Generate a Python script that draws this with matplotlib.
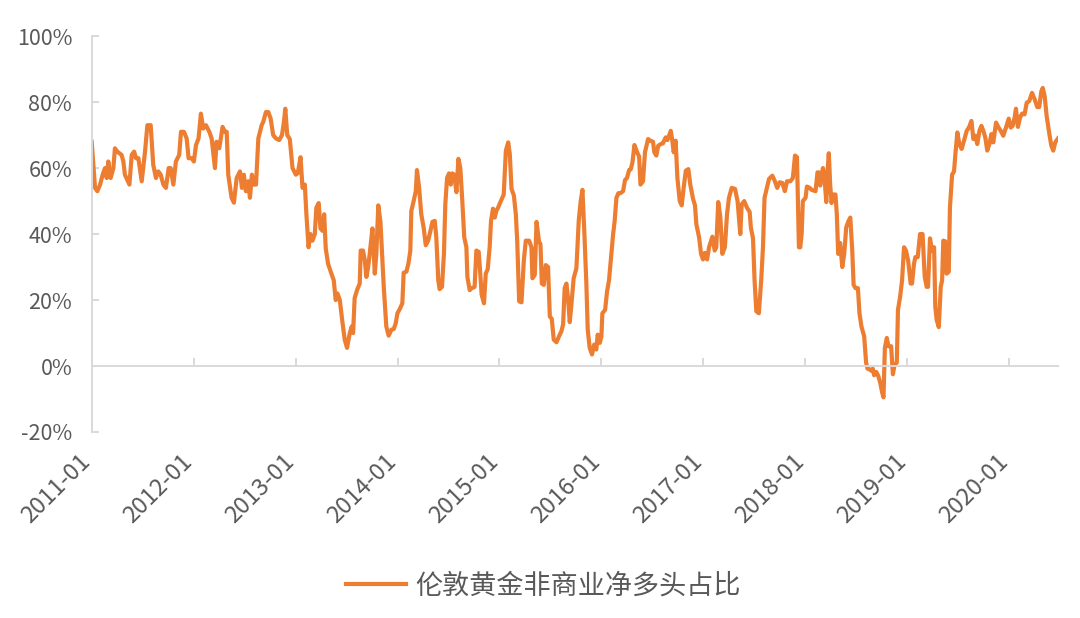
import numpy as np
import pandas as pd
import matplotlib
matplotlib.use("Agg")
import matplotlib.pyplot as plt
import matplotlib.dates as mdates
from matplotlib.ticker import FuncFormatter

plt.rcParams['font.family'] = ['Noto Sans CJK SC', 'DejaVu Sans']

series_name = "伦敦黄金非商业净多头占比"
start_date = "2011-01-01"
tick_labels = ["2011-01", "2012-01", "2013-01", "2014-01", "2015-01",
               "2016-01", "2017-01", "2018-01", "2019-01", "2020-01"]
y_ticks = [-20, 0, 20, 40, 60, 80, 100]

# weeks since start_date, values in %
weeks_2011_2012 = [0, 1.7, 2.9, 4.3, 5.6, 6.8, 7.7, 8.5, 9.7, 11.1,
                   11.9, 13.1, 15.3, 16.2, 17, 19.3, 20.5, 21.7, 22.7, 23.9,
                   25.6, 27.3, 28.5, 30.2, 31.5, 32.9, 34.1, 35.3, 36.7, 38,
                   39.4, 40.4, 41.8, 43.1, 44.8, 45.7, 47.2, 48.6, 49.6, 51.2,
                   52.3, 53.4, 54.7, 55.9, 57.1, 58.5, 60.2, 61.4, 63.1, 63.9,
                   65.3, 67, 68.2, 69.1, 69.9, 71.6, 72.8, 74.2, 75.9, 76.9,
                   77.9, 78.9, 80.1, 81, 82, 83, 84.1, 85.3, 87, 87.8,
                   89.2, 90.4, 91.6, 92.9, 94.3, 96, 97.4, 98.4, 99.1, 100.1]
vals_2011_2012 = [68, 54, 53, 55, 58, 60, 57, 62, 57, 60,
                  66, 65, 64, 62, 58, 55, 64, 65, 63, 63,
                  56, 65, 73, 73, 61, 57, 59, 58, 55, 54,
                  60, 60, 55, 62, 64, 71, 71, 69, 63, 63,
                  62, 67, 69, 76.5, 72, 73, 71, 69, 60, 68,
                  66, 72.5, 71, 71, 58, 51, 49.5, 57, 59, 54,
                  58, 53, 56, 51, 58, 55, 55, 69, 73, 74,
                  77, 77, 75, 70, 69, 68.5, 70, 74, 78, 70]

weeks_2013_2014 = [101.4, 102.8, 104.5, 105.5, 106.9, 107.9, 109.1, 109.9, 111, 112,
                   113, 114.2, 115, 116.2, 117.1, 118.1, 119, 119.8, 121, 122.7,
                   123.9, 124.9, 125.8, 127, 128.2, 129.5, 130.7, 132.1, 133.1, 133.8,
                   134.6, 136, 137.2, 137.7, 138.9, 139.8, 140.6, 141.5, 142.3, 143.7,
                   144.9, 145.7, 146.7, 147.8, 148.8, 149.5, 150.8, 152, 153.4, 154.6,
                   155.6, 156.5, 157.7, 159, 159.7, 161.1, 162.1, 163.1, 163.6, 164.8,
                   165.9, 166.5, 167.6, 168.7, 169.9, 171, 172.2, 173.4, 174.4, 175.6,
                   176.4, 177.4, 178.1, 179.3, 180.3, 181, 181.9, 182.9, 183.8, 184.6,
                   185.6, 186.7, 187.7, 188.7, 189.7, 190.7, 191.8, 192.3, 193.5, 194.3,
                   196, 196.9, 198.1, 198.9, 199.6, 200.8, 201.7, 202.7, 203.7, 204.4,
                   205.4, 206.3, 207.1, 208]
vals_2013_2014 = [68.8, 60, 58, 58.5, 63.3, 54, 55, 46, 36, 40,
                  38, 40, 48, 49.4, 41.7, 41, 46, 35.6, 31, 28,
                  26, 20, 22, 20, 14, 8, 5.5, 10, 12, 10,
                  20.6, 23.3, 25, 35, 35, 32, 27, 30, 34, 41.7,
                  28, 34, 48.7, 43.7, 32, 24, 12, 9.2, 11, 11.2,
                  12.9, 16, 17.3, 19, 28.3, 28.6, 31, 35, 47, 50,
                  53, 59.4, 54, 46, 42, 36.6, 38, 41, 43.7, 44,
                  39, 26, 23.3, 24, 34, 49, 57, 58.4, 55, 58.4,
                  58, 52.7, 62.8, 60, 50, 39, 36, 27, 23, 23.5,
                  24, 35, 34.6, 28, 21.6, 19, 28, 29.3, 36, 44,
                  47.7, 45, 47, 48]

weeks_2015_2016 = [210.9, 212, 213.2, 214, 214.9, 216.1, 217.1, 217.8, 218.8, 220,
                   221.2, 222.2, 223.9, 225.1, 225.6, 226.8, 227.7, 229, 229.7, 230.4,
                   231.4, 232.4, 233.6, 234.5, 235.5, 236.5, 237.9, 239.2, 240.4, 241.3,
                   242.1, 243, 243.9, 244.7, 245.6, 246.7, 248.1, 249.3, 250.3, 251.2,
                   252.2, 253.2, 253.9, 254.9, 256.1, 257.2, 258.3, 259, 260.1, 260.9,
                   261.4, 262.8, 263.8, 264.8, 266, 266.9, 267.7, 268.6, 269.6, 270.6,
                   272, 273, 274, 275.1, 275.9, 276.8, 277.8, 279.2, 280.2, 280.9,
                   282.2, 283.2, 284.8, 286, 287.3, 288, 289, 290, 291.4, 292.4,
                   293.8, 294.7, 295.5, 296.4, 297.2, 297.9, 298.9, 299.8, 301, 302,
                   303, 304.1, 305.4, 306.4, 307.8, 308.8, 309.5, 310.9, 311.9, 312.9,
                   313.8, 315]
vals_2015_2016 = [52, 65.3, 67.8, 64.3, 53.7, 51.7, 46, 38, 19.6, 19.3,
                  32, 38, 38, 36, 26.6, 27.6, 43.7, 37.6, 37, 25,
                  24.6, 30.6, 30, 15, 14.3, 8, 7.2, 9, 10.5, 12.6,
                  23.6, 25, 20, 13.3, 19, 26.6, 29.6, 44, 50, 53.4,
                  40, 25, 11, 5.5, 3.5, 6.5, 5, 9.5, 7, 9,
                  16, 17, 22.6, 26, 34, 40, 44, 51, 52.4, 52.4,
                  53, 56.4, 57, 59.4, 59.6, 61.7, 67, 64.8, 63.5, 55,
                  56, 64.8, 68.8, 68.3, 68, 64.8, 63.8, 66.8, 67.3, 67.5,
                  69.3, 68.5, 69.8, 71.3, 68.3, 64.8, 68.3, 57, 50, 48.7,
                  54, 59.2, 59.7, 55, 50.7, 48.7, 43, 39, 34, 32.3,
                  34.3, 32.3]

weeks_2017_2018 = [316, 317.7, 318.9, 319.7, 320.7, 321.8, 322.8, 324.1, 325.2, 326.2,
                   327.6, 329.3, 330.6, 332, 332.7, 334, 335.4, 336.8, 337.4, 338.5,
                   339.3, 340.2, 341.5, 342.7, 343.6, 344.4, 345.6, 346.7, 348.4, 349.7,
                   350.9, 352.1, 353.5, 354.8, 355.9, 357.6, 358.9, 360, 361, 362,
                   362.7, 363.4, 364, 365.4, 366.1, 367.5, 368.5, 370.5, 371.5, 372.2,
                   372.9, 373.6, 374.3, 375.1, 376, 376.7, 377.3, 378, 378.7, 379.7,
                   380.7, 381.4, 382.1, 383.1, 384.2, 385.2, 386.2, 387.2, 388.3, 389.3,
                   390, 391, 392.2, 393, 394, 395.4, 396.4, 397.1, 398.1, 399.2,
                   399.8, 400.5, 401.6, 402.6]
vals_2017_2018 = [36, 39.2, 35, 36, 49.7, 45, 34, 36, 46, 51,
                  54, 53.7, 50, 40, 49, 50, 48, 46.7, 42, 38.7,
                  26, 16.6, 16, 26, 36, 51, 54, 56.7, 57.7, 56,
                  54, 55.7, 55.5, 53, 56, 56, 57, 63.8, 63.3, 36,
                  36, 40, 50, 51, 54.4, 54, 53.4, 53, 58.7, 58.7,
                  54.7, 58, 60, 57, 49.7, 59.4, 64.5, 55, 49.4, 52,
                  52, 46, 34, 37.3, 30, 34, 42, 43.7, 45, 35,
                  24.6, 23.6, 23.6, 16, 12, 9, 1, -0.8, -1, -1.5,
                  -0.8, -2.8, -1.8, -3]

weeks_2019_2020 = [403.6, 404.6, 405.3, 406, 407, 407.8, 409.2, 410.1, 411, 412.1,
                   412.7, 413.8, 414.8, 415.8, 416.8, 417.9, 419.2, 419.9, 420.9, 421.6,
                   422.8, 424, 425.3, 426.4, 427.4, 428.1, 429.1, 430.1, 431.2, 431.8,
                   432.5, 433.6, 434.6, 435.3, 435.9, 436.9, 437.6, 438.7, 439.3, 440.4,
                   441.4, 442.1, 443.1, 444.1, 445.3, 446.7, 447.9, 449.2, 450.3, 451.3,
                   452.3, 453.3, 454.4, 455.4, 456.4, 457.4, 458.4, 459.5, 460.5, 461.5,
                   462.9, 464.2, 465.3, 466.6, 468, 469.4, 470.4, 471.4, 472.4, 473.1,
                   474.1, 475.2, 476.2, 477.5, 478.6, 479.9, 481.3, 482.7, 484, 485,
                   486.1, 486.8, 487.8, 488.8, 490.2, 491.2, 492.2, 493.2, 494.6]
vals_2019_2020 = [-5, -8, -9.5, 5.5, 8.5, 6, 6, -2.5, 0.5, 1,
                  17, 21, 26, 36, 35, 32, 25, 25, 31, 33,
                  33, 40, 40, 27, 24, 24, 38.7, 35, 36, 18,
                  14, 11.8, 24, 26, 38, 37.8, 28, 28.6, 48, 58,
                  59, 64.3, 70.8, 67.3, 65.8, 68.8, 71.3, 72.5, 74.3, 68.8,
                  69.8, 67.3, 71.3, 72.8, 71.3, 69.3, 65.3, 67.3, 70.3, 67.8,
                  73.8, 72.3, 71.3, 69.8, 72.3, 75, 72.3, 72.8, 75.3, 78,
                  72.5, 75.3, 76.5, 76.3, 79.8, 80.3, 82.8, 80.8, 78.5, 78.5,
                  83.3, 84.3, 81.8, 75.8, 70.3, 66.8, 65.3, 67.8, 69]

weeks = np.concatenate([weeks_2011_2012, weeks_2013_2014, weeks_2015_2016,
                        weeks_2017_2018, weeks_2019_2020])
vals = np.concatenate([vals_2011_2012, vals_2013_2014, vals_2015_2016,
                       vals_2017_2018, vals_2019_2020])

t0 = pd.Timestamp(start_date)
dates = t0 + pd.to_timedelta(weeks * 7, unit="D")
x = mdates.date2num(dates.values)
x0 = mdates.date2num(np.datetime64(t0))
tick_pos = mdates.date2num(pd.to_datetime([t + "-01" for t in tick_labels]).values)

line_color = "#ED7D31"
axis_color = "#D9D9D9"
text_color = "#595959"

fig = plt.figure(figsize=(10.8, 6.18), dpi=100)
ax = fig.add_axes([0.0849, 0.301, 0.8947, 0.6405])
ax.plot(x, vals, color=line_color, lw=3.0, solid_joinstyle="round", label=series_name)

ax.set_xlim(x0, x[-1])
ax.set_ylim(-20, 100)
ax.set_yticks(y_ticks)
ax.yaxis.set_major_formatter(FuncFormatter(lambda v, p: f"{v:.0f}%"))

for s in ["top", "right"]:
    ax.spines[s].set_visible(False)
ax.spines["left"].set_color(axis_color)
ax.spines["left"].set_linewidth(1.4)
ax.spines["bottom"].set_position(("data", 0))
ax.spines["bottom"].set_color(axis_color)
ax.spines["bottom"].set_linewidth(1.4)

ax.tick_params(axis="y", direction="in", length=5, width=1.4, color=axis_color,
               labelcolor=text_color, labelsize=15.5, pad=14)
ax.set_xticks(tick_pos)
ax.tick_params(axis="x", direction="in", length=6, width=1.4, color=axis_color,
               labelbottom=False)

sec = ax.secondary_xaxis("bottom")
sec.set_xticks(tick_pos, labels=tick_labels)
sec.spines["bottom"].set_visible(False)
sec.tick_params(axis="x", length=0, labelsize=17, labelcolor=text_color, pad=22)
for lab in sec.get_xticklabels():
    lab.set_rotation(45)
    lab.set_ha("right")
    lab.set_va("baseline")
    lab.set_rotation_mode("anchor")

leg = fig.legend(loc="center", bbox_to_anchor=(0.503, 0.052), frameon=False,
                 fontsize=19.5, handlelength=2.2, handletextpad=0.35)
for t in leg.get_texts():
    t.set_color(text_color)

fig.savefig("out.png", dpi=100)
